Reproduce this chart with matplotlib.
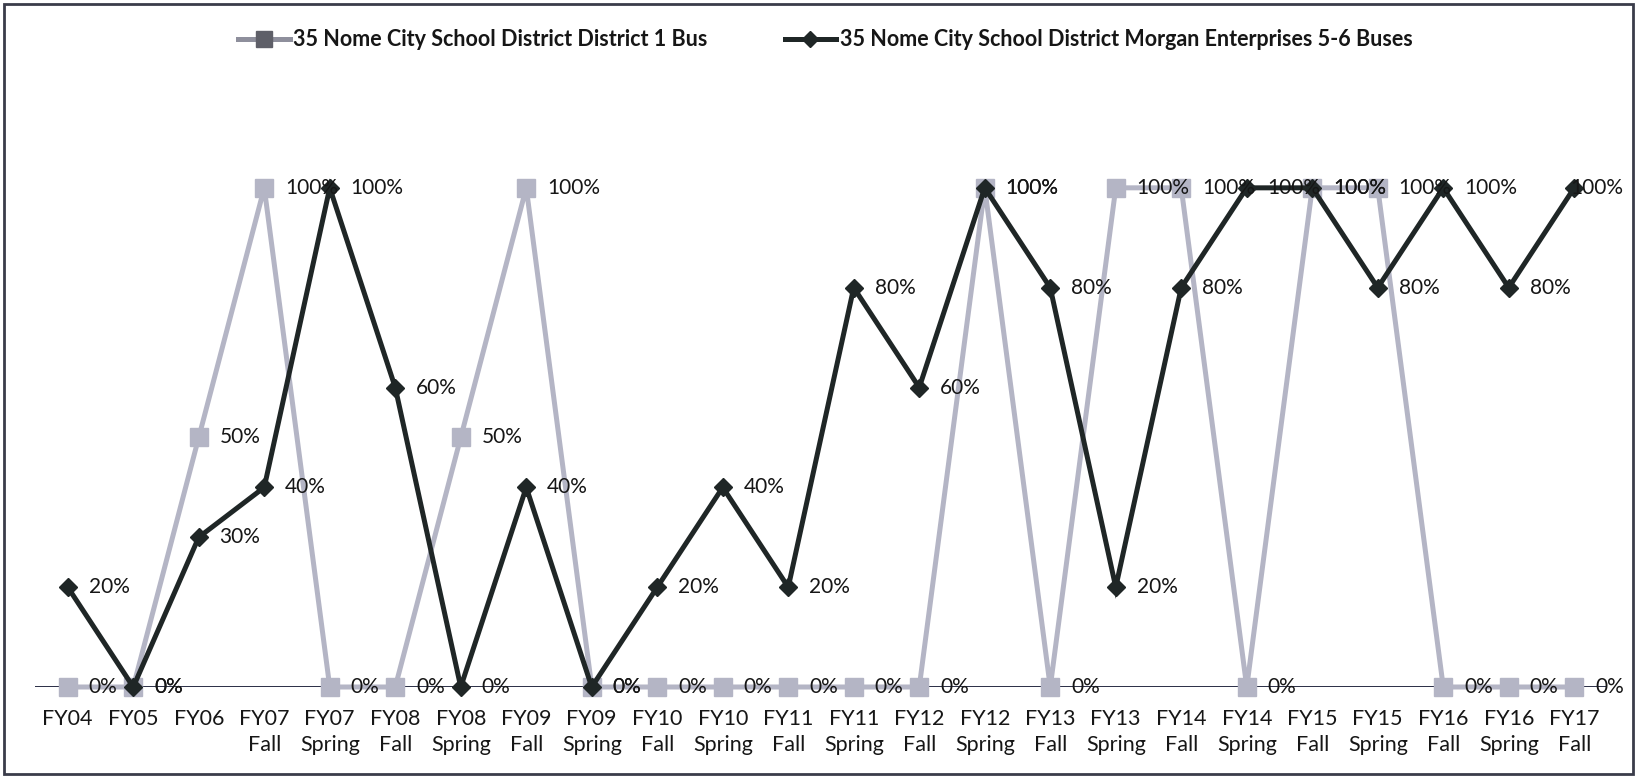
import matplotlib
matplotlib.use("Agg")
import matplotlib.pyplot as plt
from matplotlib.patches import Rectangle
from matplotlib.lines import Line2D

periods = ["FY04", "FY05", "FY06", "FY07\nFall", "FY07\nSpring", "FY08\nFall",
           "FY08\nSpring", "FY09\nFall", "FY09\nSpring", "FY10\nFall", "FY10\nSpring",
           "FY11\nFall", "FY11\nSpring", "FY12\nFall", "FY12\nSpring", "FY13\nFall",
           "FY13\nSpring", "FY14\nFall", "FY14\nSpring", "FY15\nFall", "FY15\nSpring",
           "FY16\nFall", "FY16\nSpring", "FY17\nFall"]

district_bus = [0, 0, 50, 100, 0, 0, 50, 100, 0, 0, 0, 0,
                0, 0, 100, 0, 100, 100, 0, 100, 100, 0, 0, 0]
morgan_buses = [20, 0, 30, 40, 100, 60, 0, 40, 0, 20, 40, 20,
                80, 60, 100, 80, 20, 80, 100, 100, 80, 100, 80, 100]

series_names = ["35 Nome City School District District 1 Bus",
                "35 Nome City School District Morgan Enterprises 5-6 Buses"]

FONT = "Lato"
GRAY = "#b4b5c5"
DARK = "#1f2626"
TEXT = "#161616"

fig = plt.figure(figsize=(16.37, 7.78), dpi=100)
ax = fig.add_axes([35 / 1637, 1 - 687 / 778, (1607 - 35) / 1637, (687 - 88) / 778])

x = list(range(len(periods)))

ax.axhline(0, color="#2a2e45", lw=1.4, zorder=1)

ax.plot(x, district_bus, color=GRAY, lw=3.6, marker="s", ms=13,
        mfc=GRAY, mec=GRAY, zorder=2, solid_joinstyle="miter", clip_on=False)
ax.plot(x, morgan_buses, color=DARK, lw=3.6, marker="D", ms=9.5,
        mfc=DARK, mec=DARK, zorder=3, solid_joinstyle="miter", clip_on=False)

last = len(periods) - 1
for series in (district_bus, morgan_buses):
    for xi, v in zip(x, series):
        # the right-most label is pulled back inside the frame
        dx = -3 if (xi == last and v > 0) else 15
        ax.annotate(f"{v}%", (xi, v), xytext=(dx, 0), textcoords="offset points",
                    ha="left", va="center", fontsize=15, family=FONT,
                    color=TEXT, zorder=5, annotation_clip=False)

ax.set_xlim(-0.5, len(periods) - 0.5)
ax.set_ylim(0, 120)
ax.set_yticks([])
ax.set_xticks(x)
ax.set_xticklabels(periods, fontsize=15.5, family=FONT, color=TEXT, linespacing=1.35)
ax.tick_params(axis="x", length=0, pad=16)
for s in ax.spines.values():
    s.set_visible(False)
ax.patch.set_alpha(0)

handles = [
    Line2D([], [], color="#8e8f9c", lw=3.6, marker="s", ms=11, mfc="#5e5f68", mec="#5e5f68"),
    Line2D([], [], color=DARK, lw=3.6, marker="D", ms=8, mfc=DARK, mec=DARK),
]
leg = fig.legend(handles, series_names, loc="center", bbox_to_anchor=(0.504, 0.949),
                 ncol=2, frameon=False, handlelength=2.4, handletextpad=0.15,
                 columnspacing=3.6, prop={"family": FONT, "size": 15.5, "weight": "bold"})
for t in leg.get_texts():
    t.set_color(TEXT)

fig.patches.append(Rectangle((4 / 1637, 4 / 778), 1 - 8 / 1637, 1 - 8 / 778,
                             transform=fig.transFigure, fill=False,
                             edgecolor="#3a3c4a", lw=2.0))

fig.savefig("out.png", dpi=100)
